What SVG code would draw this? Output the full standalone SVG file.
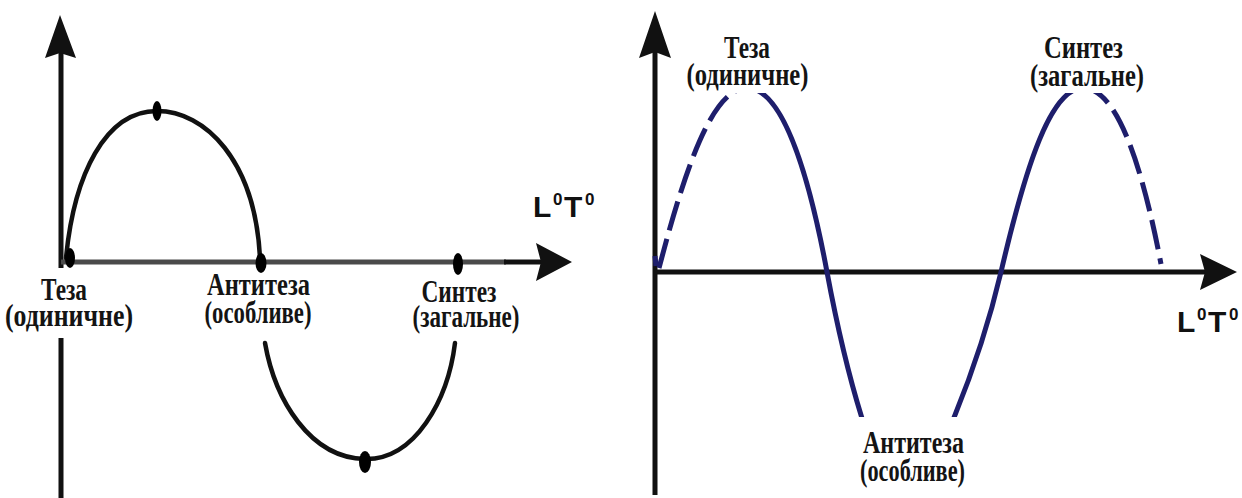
<svg xmlns="http://www.w3.org/2000/svg" width="1242" height="498" viewBox="0 0 1242 498">
<style>
.lbl{font-family:"Liberation Serif","Times New Roman","DejaVu Serif",serif;font-weight:bold;font-size:31px;fill:#141414;text-anchor:middle}
.ax{font-family:"Liberation Sans",Arial,sans-serif;font-weight:bold;fill:#111}
.big{font-size:30px}
.sup{font-size:17px}
.axis{stroke:#111;stroke-width:5;fill:none}
.axg{stroke:#4a4a4a;stroke-width:5;fill:none}
.arc{stroke:#111;stroke-width:4.5;fill:none;stroke-linecap:round}
.wave{stroke:#1e1e6c;stroke-width:5;fill:none}
.dash{stroke-dasharray:30 9}
.dot{fill:#000}
.head{fill:#111}
</style>
<defs>
<clipPath id="rclip"><rect x="640" y="93" width="602" height="324"/></clipPath>
</defs>
<rect width="1242" height="498" fill="#fff"/>
<g id="connectors">
<line class="axis" x1="61" y1="52" x2="61" y2="268"/>
<line class="axis" x1="61" y1="338" x2="61" y2="498"/>
<polygon class="head" points="60,15 76,58 60,53 45,58"/>
<line class="axg" x1="61" y1="262" x2="506" y2="262"/>
<line class="axis" x1="504" y1="262" x2="545" y2="262"/>
<polygon class="head" points="572,262 536,281 541,262 536,243"/>
<path class="arc" d="M 66 258 C 74 175, 105 111, 157 111 C 205 111, 255 160, 260 258"/>
<path class="arc" d="M 265 343 C 275 400, 310 458, 365 459 C 415 460, 448 400, 455 343"/>
<line class="axis" x1="655" y1="50" x2="655" y2="495"/>
<polygon class="head" points="655,11 671,58 655,52 639,58"/>
<line class="axis" x1="655" y1="272" x2="1210" y2="272"/>
<polygon class="head" points="1237,272 1200,290 1205,272 1200,254"/>
<g clip-path="url(#rclip)">
<path class="wave dash" d="M 659 268 C 686 165, 713 88, 747 88"/>
<path class="wave" d="M 747 88 C 782 88, 808 170, 827 272 C 846 374, 880 500, 906 500 C 925 500, 978.5 368, 1001 272 C 1026 165, 1051 88, 1083 88"/>
<path class="wave dash" d="M 1083 88 C 1118 88, 1143 170, 1161 264"/>
</g>
<path class="wave" d="M 655 256 L 656 266" stroke-width="3"/>
</g>
<g id="node-teza-left">
<ellipse class="dot" cx="70" cy="258" rx="5" ry="10"/>
<text class="lbl" x="64" y="300" textLength="46" lengthAdjust="spacingAndGlyphs">Теза</text>
<text class="lbl" x="69" y="326" textLength="128" lengthAdjust="spacingAndGlyphs">(одиничне)</text>
</g>
<g id="node-peak-left">
<ellipse class="dot" cx="157" cy="111" rx="4.5" ry="10"/>
</g>
<g id="node-antyteza-left">
<ellipse class="dot" cx="261" cy="263" rx="5.5" ry="10"/>
<text class="lbl" x="258.5" y="295" textLength="103" lengthAdjust="spacingAndGlyphs">Антитеза</text>
<text class="lbl" x="258" y="323" textLength="107" lengthAdjust="spacingAndGlyphs">(особливе)</text>
</g>
<g id="node-trough-left">
<ellipse class="dot" cx="365" cy="462" rx="6" ry="11"/>
</g>
<g id="node-syntez-left">
<ellipse class="dot" cx="458" cy="264" rx="5" ry="11"/>
<text class="lbl" x="459" y="302" textLength="75" lengthAdjust="spacingAndGlyphs">Синтез</text>
<text class="lbl" x="466" y="327" textLength="107" lengthAdjust="spacingAndGlyphs">(загальне)</text>
</g>
<g id="label-axis-left">
<text class="ax"><tspan class="big" x="533" y="217">L</tspan><tspan class="sup" x="553" y="205">0</tspan><tspan class="big" x="564" y="217">T</tspan><tspan class="sup" x="585" y="205">0</tspan></text>
</g>
<g id="node-teza-right">
<text class="lbl" x="747" y="58" textLength="46" lengthAdjust="spacingAndGlyphs">Теза</text>
<text class="lbl" x="747.5" y="85" textLength="122" lengthAdjust="spacingAndGlyphs">(одиничне)</text>
</g>
<g id="node-syntez-right">
<text class="lbl" x="1083.5" y="58" textLength="79" lengthAdjust="spacingAndGlyphs">Синтез</text>
<text class="lbl" x="1087" y="86" textLength="114" lengthAdjust="spacingAndGlyphs">(загальне)</text>
</g>
<g id="node-antyteza-right">
<text class="lbl" x="913.5" y="453" textLength="101" lengthAdjust="spacingAndGlyphs">Антитеза</text>
<text class="lbl" x="912.5" y="481" textLength="105" lengthAdjust="spacingAndGlyphs">(особливе)</text>
</g>
<g id="label-axis-right">
<text class="ax"><tspan class="big" x="1177" y="332">L</tspan><tspan class="sup" x="1197" y="320">0</tspan><tspan class="big" x="1208" y="332">T</tspan><tspan class="sup" x="1229" y="320">0</tspan></text>
</g>
</svg>
